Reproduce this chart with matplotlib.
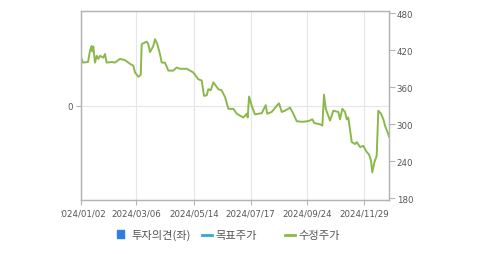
import matplotlib
matplotlib.use('Agg')
import matplotlib.pyplot as plt
from matplotlib.patches import Rectangle
from matplotlib.lines import Line2D

# ── Data (x = trading-day index in 2024, y = adjusted price) ─────────────────
day_idx = [0, 1.6, 5.6, 7.2, 8.5, 9.1, 9.8, 11.1, 12.5, 13.8, 15.1, 17.7, 19.1,
           20.4, 24.4, 27, 31, 35, 39, 41.6, 43, 45.6, 47.5, 48.3, 52.3, 53.5,
           54.9, 56.2, 57.5, 58.9, 60.7, 62.8, 64.2, 66.8, 69.5, 73.4, 76.1,
           78.8, 84.1, 89.3, 93.3, 96, 97.9, 100, 101.3, 103.2, 105.3, 109.2,
           111.9, 114.6, 117.2, 121.2, 123.9, 126.5, 129.1, 131.8, 132.6, 133.7,
           135.8, 138.4, 141, 143.8, 146.9, 148.2, 151.7, 155.7, 157.5, 159.7,
           162.3, 166.3, 168.9, 171.6, 175.6, 180.8, 184, 185.6, 190.1, 192,
           193.3, 194.7, 198.1, 200.7, 204.7, 206, 207.9, 210, 211.4, 212.6,
           215.4, 218, 219.4, 222, 224.6, 227.3, 229.1, 230.7, 231.7, 233.3,
           235.2, 236.5, 238.7, 240.5, 241.8, 244.4, 245]
price = [408, 400, 401, 420, 427, 418, 426, 400, 411, 406, 411, 408, 414,
         400, 401, 400, 406, 404, 398, 395, 384, 377, 380, 430, 434, 430,
         417, 422, 427, 438, 430, 414, 400, 400, 387, 387, 392,
         390, 390, 384, 373, 371, 346, 347, 357, 355, 368, 357,
         355, 344, 325, 325, 317, 314, 311, 317, 311, 345,
         330, 316, 317, 318, 331, 317, 320, 330, 334, 320,
         322, 327, 317, 305, 304, 305, 308, 302, 300, 298,
         348, 325, 306, 322, 320, 308, 325, 320, 308, 311,
         271, 268, 271, 263, 265, 255, 251, 241, 222, 238,
         249, 322, 317, 308, 298, 284, 280]

tick_idx = [0, 44, 90, 135, 180, 225]
tick_labels = ['2024/01/02', '2024/03/06', '2024/05/14', '2024/07/17',
               '2024/09/24', '2024/11/29']
price_ticks = [180, 240, 300, 360, 420, 480]

legend_labels = ['투자의견(좌)', '목표주가', '수정주가']

GREEN = '#8cb84b'
TEAL = '#33aacc'
BLUE = '#2f7fe0'
SPINE = '#b4b4b4'
GRID = '#e6e6e6'
TXT = '#555555'

# ── Figure ───────────────────────────────────────────────────────────────────
fig = plt.figure(figsize=(4.79, 2.55), dpi=100)
ax = fig.add_axes([81 / 479, 1 - 201 / 255, 308 / 479, (201 - 12.3) / 255])
ax2 = ax.twinx()

# left axis: investment opinion (empty), single tick at 0
ax.set_ylim(-1, 1)
ax.set_yticks([0])
ax.set_xlim(0, 245)
ax.set_xticks(tick_idx)
ax.set_xticklabels(tick_labels)
ax.grid(True, color=GRID, lw=0.8)
ax.set_axisbelow(True)

# right axis: adjusted price
ax2.plot(day_idx, price, color=GREEN, lw=1.4, solid_joinstyle='round')
ax2.set_ylim(177.2, 483.2)
ax2.set_yticks(price_ticks)

for a in (ax, ax2):
    for s in a.spines.values():
        s.set_color(SPINE)
        s.set_linewidth(0.9)
    a.tick_params(colors=SPINE, labelcolor=TXT, labelsize=6.2, width=0.8)
ax.tick_params(axis='x', length=3.5, pad=2.5)
ax.tick_params(axis='y', length=3.5, pad=2)
ax2.tick_params(axis='y', length=4, pad=1.5)

# ── Legend (drawn manually below the plot) ────────────────────────────────────
kfont = ['Noto Sans CJK KR', 'DejaVu Sans']
fig.patches.append(Rectangle((116.7 / 479, 1 - 238.5 / 255), 7.5 / 479, 7.5 / 255,
                             transform=fig.transFigure, color=BLUE))
fig.lines.append(Line2D([201.5 / 479, 211.5 / 479], [1 - 236 / 255] * 2,
                        transform=fig.transFigure, color=TEAL, lw=2))
fig.lines.append(Line2D([285 / 479, 295 / 479], [1 - 236 / 255] * 2,
                        transform=fig.transFigure, color=GREEN, lw=2))
for xpos, lab in zip([131 / 479, 215.5 / 479, 298.5 / 479], legend_labels):
    fig.text(xpos, 1 - 235.5 / 255, lab, family=kfont, fontsize=8.1,
             color=TXT, va='center', ha='left')

# the original crops the first date label at the left edge
fig.patches.append(Rectangle((0, 0), 60.5 / 479, 50 / 255,
                             transform=fig.transFigure, color='white', zorder=10))

fig.savefig('out.png', dpi=100)
